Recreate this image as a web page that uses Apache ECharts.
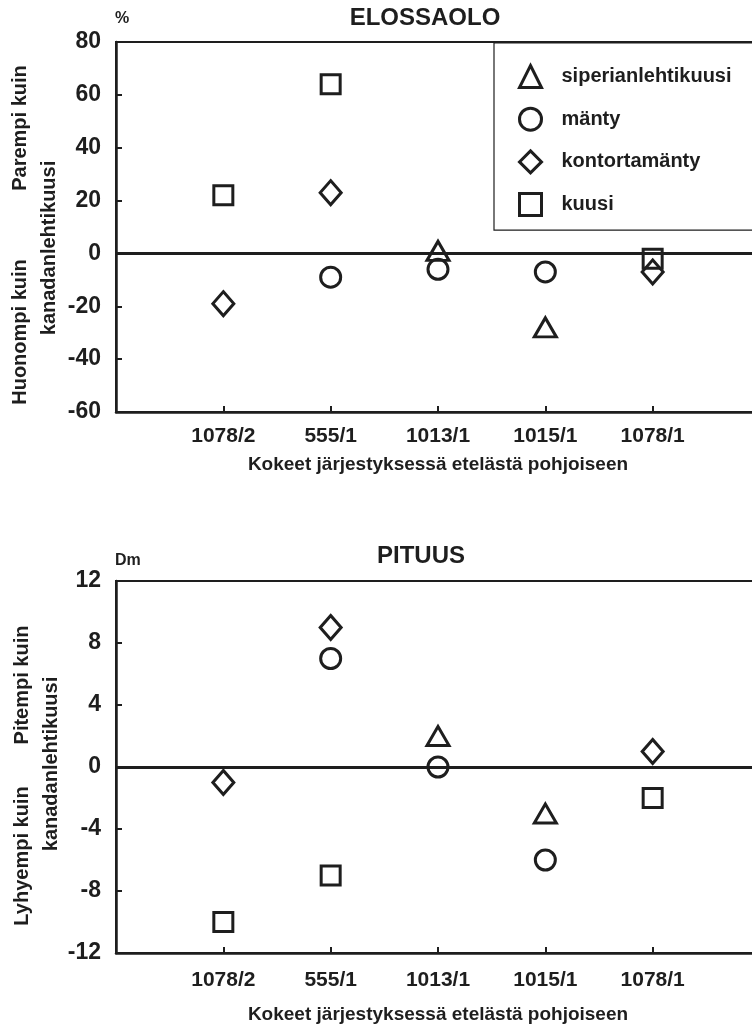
<!DOCTYPE html>
<html>
<head>
<meta charset="utf-8">
<script src="https://cdn.jsdelivr.net/npm/echarts@6/dist/echarts.min.js"></script>
<style>
  html, body { margin: 0; padding: 0; background: #fff; }
  #chart { width: 752px; height: 1028px; }
</style>
</head>
<body>
<div id="chart"></div>
<script>
// kokeet etelästä pohjoiseen
const sites = ['1078/2', '555/1', '1013/1', '1015/1', '1078/1']
const speciesNames = ['siperianlehtikuusi', 'mänty', 'kontortamänty', 'kuusi']
const speciesSymbols = ['triangle', 'circle', 'diamond', 'rect']
const symbolSizes = [[22, 19], 20, [21, 24], 19]

// elossaolo, % ero kanadanlehtikuuseen
const survSiperian = [null, null, 1, -28, null]
const survManty = [null, -9, -6, -7, null]
const survKontorta = [-19, 23, null, null, -7]
const survKuusi = [22, 64, null, null, -2]

// pituus, dm ero kanadanlehtikuuseen
const hgtSiperian = [null, null, 2, -3, null]
const hgtManty = [null, 7, 0, -6, null]
const hgtKontorta = [-1, 9, null, null, 1]
const hgtKuusi = [-10, -7, null, null, -2]

const survTicks = { min: -60, max: 80, interval: 20 }
const hgtTicks = { min: -12, max: 12, interval: 4 }

const FONT = "'Liberation Sans', Arial, sans-serif"
const INK = '#1e1e1e'
const markStyle = { color: 'rgba(255,255,255,0)', borderColor: INK, borderWidth: 3, opacity: 1 }

const toPoints = (vals) => vals.map((v, i) => (v === null ? null : [i + 1, v])).filter(p => p)

const makeSeries = (lists, gridIdx) => lists.map((vals, k) => {
	const s = {
		name: speciesNames[k],
		type: 'scatter',
		xAxisIndex: gridIdx,
		yAxisIndex: gridIdx,
		symbol: speciesSymbols[k],
		symbolSize: symbolSizes[k],
		itemStyle: markStyle,
		data: toPoints(vals),
		z: 3
	}
	if (k === 0) {
		// nollaviiva
		s.markLine = {
			silent: true,
			symbol: 'none',
			label: { show: false },
			lineStyle: { color: INK, width: 3, type: 'solid', opacity: 1 },
			data: [{ yAxis: 0 }],
			z: 2
		}
	}
	return s
})

const xAxisFor = (gridIdx, labelMargin, nameGap) => ({
	type: 'value',
	gridIndex: gridIdx,
	min: 0,
	max: 6,
	interval: 1,
	name: 'Kokeet järjestyksessä etelästä pohjoiseen',
	nameLocation: 'middle',
	nameGap: nameGap,
	nameTextStyle: { fontFamily: FONT, fontSize: 19, fontWeight: 'bold', color: INK },
	axisLine: { onZero: false, lineStyle: { color: INK, width: 2.5 } },
	axisTick: { show: true, inside: true, length: 6, lineStyle: { color: INK, width: 2 } },
	axisLabel: {
		margin: labelMargin,
		fontFamily: FONT, fontSize: 21, fontWeight: 'bold', color: INK,
		formatter: (v) => sites[v - 1] || ''
	},
	splitLine: { show: false }
})

const yAxisFor = (gridIdx, ticks) => ({
	type: 'value',
	gridIndex: gridIdx,
	min: ticks.min,
	max: ticks.max,
	interval: ticks.interval,
	axisLine: { show: true, lineStyle: { color: INK, width: 2.5 } },
	axisTick: { show: true, inside: true, length: 6, lineStyle: { color: INK, width: 2 } },
	axisLabel: { margin: 15, fontFamily: FONT, fontSize: 23, fontWeight: 'bold', color: INK },
	splitLine: { show: false }
})

const txt = (x, y, text, size, opts = {}) => ({
	type: 'text',
	x: x,
	y: y,
	rotation: opts.rot || 0,
	style: {
		text: text,
		font: `bold ${size}px ${FONT}`,
		fill: INK,
		align: opts.align || 'center',
		verticalAlign: 'middle'
	}
})

const chart = echarts.init(document.getElementById('chart'))
const options = {
	backgroundColor: '#fff',
	animation: false,
	grid: [
		{ left: 116, top: 42, width: 644, height: 370, outerBoundsMode: 'none', containLabel: false, show: true, borderColor: INK, borderWidth: 2, backgroundColor: 'transparent' },
		{ left: 116, top: 581, width: 644, height: 372, outerBoundsMode: 'none', containLabel: false, show: true, borderColor: INK, borderWidth: 2, backgroundColor: 'transparent' }
	],
	xAxis: [xAxisFor(0, 14, 43), xAxisFor(1, 17, 52)],
	yAxis: [yAxisFor(0, survTicks), yAxisFor(1, hgtTicks)],
	legend: {
		left: 494,
		top: 43,
		orient: 'vertical',
		selectedMode: false,
		data: speciesNames,
		itemWidth: 22,
		itemHeight: 22,
		itemGap: 17.7,
		padding: [21, 40, 13, 24],
		backgroundColor: '#fff',
		borderColor: INK,
		borderWidth: 1.2,
		itemStyle: markStyle,
		textStyle: { fontFamily: FONT, fontSize: 20, fontWeight: 'bold', color: INK, padding: [0, 0, 0, 15] }
	},
	graphic: [
		txt(425, 18, 'ELOSSAOLO', 24),
		txt(115, 19, '%', 16, { align: 'left' }),
		txt(20, 128, 'Parempi kuin', 20, { rot: Math.PI / 2 }),
		txt(20, 332, 'Huonompi kuin', 20, { rot: Math.PI / 2 }),
		txt(49, 248, 'kanadanlehtikuusi', 20, { rot: Math.PI / 2 }),
		txt(421, 556, 'PITUUS', 24),
		txt(115, 561, 'Dm', 16, { align: 'left' }),
		txt(22, 685, 'Pitempi kuin', 20, { rot: Math.PI / 2 }),
		txt(22, 856, 'Lyhyempi kuin', 20, { rot: Math.PI / 2 }),
		txt(51, 764, 'kanadanlehtikuusi', 20, { rot: Math.PI / 2 })
	],
	series: [
		...makeSeries([survSiperian, survManty, survKontorta, survKuusi], 0),
		...makeSeries([hgtSiperian, hgtManty, hgtKontorta, hgtKuusi], 1)
	]
}
chart.setOption(options)
</script>
</body>
</html>
